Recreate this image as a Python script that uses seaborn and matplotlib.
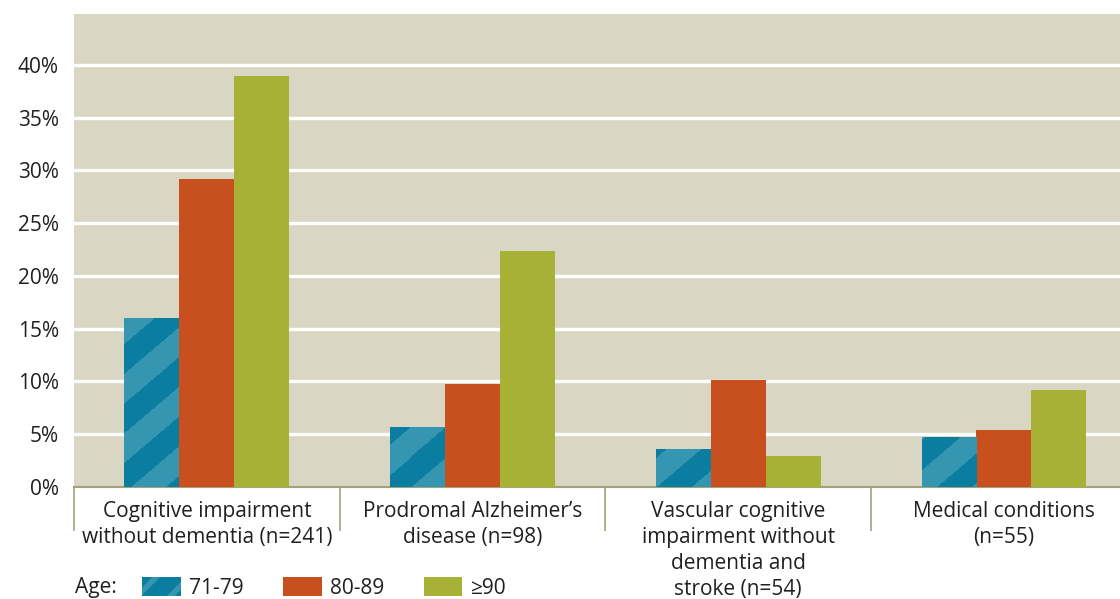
import numpy as np
import pandas as pd
import matplotlib
matplotlib.use('Agg')
import matplotlib.pyplot as plt
from matplotlib.colors import ListedColormap
from matplotlib.patches import Patch
import seaborn as sns

# Data
categories = [
    "Cognitive impairment\nwithout dementia (n=241)",
    "Prodromal Alzheimer\u2019s\ndisease (n=98)",
    "Vascular cognitive\nimpairment without\ndementia and\nstroke (n=54)",
    "Medical conditions\n(n=55)",
]
age_groups = ["71-79", "80-89", "\u226590"]
pct_71_79 = [16.0, 5.6, 3.6, 4.7]
pct_80_89 = [29.2, 9.8, 10.1, 5.4]
pct_90_plus = [39.0, 22.4, 2.9, 9.2]
y_ticks = [0, 5, 10, 15, 20, 25, 30, 35, 40]

df = pd.DataFrame({
    "category": categories * 3,
    "age": [age_groups[0]] * 4 + [age_groups[1]] * 4 + [age_groups[2]] * 4,
    "value": pct_71_79 + pct_80_89 + pct_90_plus,
})

blue_dark = "#0b7da1"
blue_light = "#3596b1"
orange = "#c8501e"
green = "#a7b135"
bg = "#d9d7c4"
olive = "#a3a27a"
txt = "#231f20"
fs = 15

sns.set_style("white")
plt.rcParams['font.family'] = ['Open Sans', 'DejaVu Sans']
plt.rcParams['hatch.linewidth'] = 4

fig = plt.figure(figsize=(11.2, 5.99), dpi=100)
ax = fig.add_axes([74 / 1120, 1 - 487 / 599, 1 - 74 / 1120, (487 - 14) / 599])
ax.set_facecolor(bg)

sns.barplot(data=df, x="category", y="value", hue="age",
            palette=[blue_dark, orange, green], saturation=1,
            width=0.62, legend=False, ax=ax, zorder=3, linewidth=0)

ax.set_xlim(-0.5, 3.437)
ax.set_ylim(0, 44.83)

# gridlines
ax.set_yticks(y_ticks)
ax.set_yticklabels([f"{t}%" for t in y_ticks], fontsize=fs, color=txt)
for t in y_ticks[1:]:
    ax.axhline(t, color="white", lw=2.4, zorder=1)
ax.tick_params(axis='both', length=0)
ax.tick_params(axis='y', pad=11)
ax.tick_params(axis='x', pad=10)
for lab in ax.get_xticklabels():
    lab.set_fontsize(fs)
    lab.set_color(txt)
    lab.set_linespacing(1.32)
ax.set_xlabel("")
ax.set_ylabel("")

for s in ["top", "right", "left"]:
    ax.spines[s].set_visible(False)
ax.spines["bottom"].set_color(olive)
ax.spines["bottom"].set_linewidth(1.5)

# separators between category labels
seps = np.arange(len(categories)) - 0.5
ax.vlines(seps, -0.093, 0, transform=ax.get_xaxis_transform(),
          color=olive, lw=1.2, clip_on=False)

# diagonal stripes on the 71-79 bars
stripe_cmap = ListedColormap([blue_dark, blue_light])
for bar in ax.containers[0]:
    x0, y0 = bar.get_x(), bar.get_y()
    x1, y1 = x0 + bar.get_width(), y0 + bar.get_height()
    (px0, py0), (px1, py1) = ax.transData.transform([(x0, y0), (x1, y1)])
    nx, ny = max(int(round(px1 - px0)), 1), max(int(round(py1 - py0)), 1)
    X, Y = np.meshgrid(np.arange(nx) + px0, np.arange(ny) + py0)
    arr = ((X - Y / 0.85) % 70 < 35).astype(float)
    ax.imshow(arr, extent=[x0, x1, y0, y1], origin='lower', cmap=stripe_cmap,
              aspect='auto', interpolation='nearest', zorder=3.5, vmin=0, vmax=1)
ax.set_xlim(-0.5, 3.437)
ax.set_ylim(0, 44.83)

# legend
fig.text(75 / 1120, 1 - 588 / 599, "Age:", fontsize=fs, color=txt, va='center')
handles = [
    Patch(facecolor=blue_dark, edgecolor=blue_light, hatch='/', lw=0),
    Patch(facecolor=orange, lw=0),
    Patch(facecolor=green, lw=0),
]
leg = fig.legend(handles, age_groups, loc='center left',
                 bbox_to_anchor=(142 / 1120, 1 - 588 / 599), ncol=3,
                 frameon=False, fontsize=fs, borderpad=0, borderaxespad=0,
                 handlelength=1.85, handleheight=1.0, handletextpad=0.4,
                 columnspacing=1.9)
for t in leg.get_texts():
    t.set_color(txt)

fig.savefig("out.png", dpi=100)
